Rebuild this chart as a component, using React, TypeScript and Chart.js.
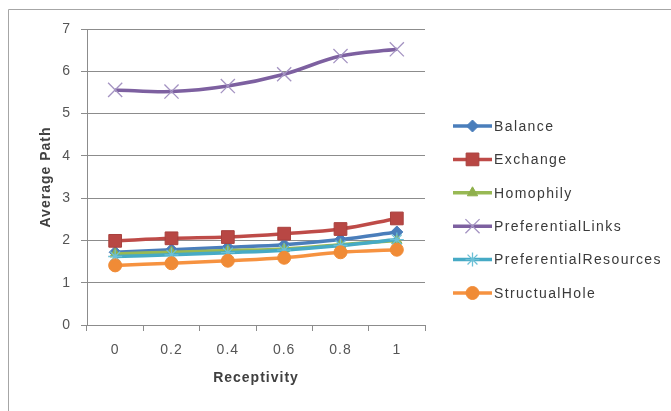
import React, { useEffect, useRef } from 'react';
import { Chart, registerables } from 'chart.js';
import { drawPoint } from 'chart.js/helpers';

Chart.register(...registerables);

// Receptivity levels on the x axis
const receptivity = ['0', '0.2', '0.4', '0.6', '0.8', '1'];

// Average path length per network model
const balance = [1.72, 1.78, 1.84, 1.9, 2.02, 2.2];
const exchange = [1.99, 2.05, 2.08, 2.16, 2.27, 2.52];
const homophily = [1.68, 1.72, 1.76, 1.8, 1.9, 2.0];
const preferentialLinks = [5.56, 5.52, 5.65, 5.93, 6.36, 6.52];
const preferentialResources = [1.62, 1.66, 1.71, 1.77, 1.88, 2.02];
const structualHole = [1.41, 1.46, 1.52, 1.59, 1.72, 1.78];

const yMin = 0;
const yMax = 7;
const yStep = 1;

const FONT = '"Liberation Sans", Arial, sans-serif';
const AXIS_GREY = '#8c8c8c';
const TEXT_GREY = '#555555';

type SeriesDef = {
  name: string;
  data: number[];
  line: string;
  fill: string;
  edge: string;
  style: string;
  radius: number;
  edgeWidth: number;
};

const series: SeriesDef[] = [
  { name: 'Balance', data: balance, line: '#4a7ebb', fill: '#4a7ebb', edge: '#4a7ebb', style: 'rectRot', radius: 6, edgeWidth: 1 },
  { name: 'Exchange', data: exchange, line: '#be4b48', fill: '#b84744', edge: '#a9413e', style: 'rect', radius: 9, edgeWidth: 1 },
  { name: 'Homophily', data: homophily, line: '#98b954', fill: '#8fb04c', edge: '#8fb04c', style: 'triangle', radius: 6, edgeWidth: 1 },
  { name: 'PreferentialLinks', data: preferentialLinks, line: '#7d60a0', fill: '#a493c2', edge: '#a493c2', style: 'crossRot', radius: 10, edgeWidth: 1.3 },
  { name: 'PreferentialResources', data: preferentialResources, line: '#46aac5', fill: '#6cc0d6', edge: '#6cc0d6', style: 'star', radius: 7, edgeWidth: 1.3 },
  { name: 'StructualHole', data: structualHole, line: '#f69240', fill: '#f08b36', edge: '#f08b36', style: 'circle', radius: 6.5, edgeWidth: 1 },
];

// Outer frame (left and top edges) plus letter spacing for all canvas text
const framePlugin = {
  id: 'frame',
  beforeDraw(chart: any) {
    const ctx = chart.ctx as CanvasRenderingContext2D;
    ctx.save();
    ctx.strokeStyle = '#a6a6a6';
    ctx.lineWidth = 1;
    ctx.beginPath();
    ctx.moveTo(8.5, chart.height);
    ctx.lineTo(8.5, 9.5);
    ctx.lineTo(chart.width, 9.5);
    ctx.stroke();
    ctx.restore();
    (ctx as any).letterSpacing = '1px';
  },
};

// Legend on the right: line sample with marker, then the series name
const sideLegendPlugin = {
  id: 'sideLegend',
  afterDraw(chart: any) {
    const ctx = chart.ctx as CanvasRenderingContext2D;
    const x0 = 453;
    const x1 = 492;
    const top = 126;
    const gap = 33.4;
    ctx.save();
    (ctx as any).letterSpacing = '1.4px';
    ctx.font = `14px ${FONT}`;
    ctx.textBaseline = 'middle';
    ctx.textAlign = 'left';
    series.forEach((s, i) => {
      const y = top + i * gap;
      ctx.strokeStyle = s.line;
      ctx.lineWidth = 3.5;
      ctx.lineCap = 'butt';
      ctx.beginPath();
      ctx.moveTo(x0, y);
      ctx.lineTo(x1, y);
      ctx.stroke();
      ctx.fillStyle = s.fill;
      ctx.strokeStyle = s.edge;
      ctx.lineWidth = s.edgeWidth;
      drawPoint(ctx, { pointStyle: s.style as any, radius: s.radius, rotation: 0, borderWidth: s.edgeWidth }, (x0 + x1) / 2, y);
      ctx.fillStyle = '#3a3a3a';
      ctx.fillText(s.name, x1 + 2, y + 1);
    });
    ctx.restore();
  },
};

export default function App() {
  const canvasRef = useRef<HTMLCanvasElement | null>(null);

  useEffect(() => {
    const canvas = canvasRef.current;
    if (!canvas) return;
    const chart = new Chart(canvas, {
      type: 'line',
      data: {
        labels: receptivity,
        datasets: series.map((s, i) => ({
          label: s.name,
          data: s.data,
          borderColor: s.line,
          backgroundColor: s.fill,
          borderWidth: 3.5,
          tension: 0.35,
          fill: false,
          pointStyle: s.style as any,
          pointRadius: s.radius,
          pointBackgroundColor: s.fill,
          pointBorderColor: s.edge,
          pointBorderWidth: s.edgeWidth,
          order: series.length - i,
        })),
      },
      options: {
        animation: false,
        responsive: false,
        devicePixelRatio: 1,
        layout: { padding: { left: 0, top: 29, right: 246, bottom: 0 } },
        plugins: {
          legend: { display: false },
          tooltip: { enabled: false },
        },
        scales: {
          x: {
            type: 'category',
            offset: true,
            grid: { drawOnChartArea: false, offset: true, tickLength: 6, color: AXIS_GREY },
            border: { color: AXIS_GREY },
            ticks: { color: TEXT_GREY, font: { family: FONT, size: 14 }, padding: 11, maxRotation: 0, autoSkip: false },
            title: {
              display: true,
              text: 'Receptivity',
              color: '#404040',
              font: { family: FONT, size: 14, weight: 'bold' },
              padding: { top: 0, bottom: 24 },
            },
            afterFit(scale: any) {
              scale.height = 86;
            },
          },
          y: {
            min: yMin,
            max: yMax,
            grid: { color: AXIS_GREY, tickLength: 6 },
            border: { color: AXIS_GREY },
            ticks: { stepSize: yStep, color: TEXT_GREY, font: { family: FONT, size: 14 }, padding: 10 },
            title: {
              display: true,
              text: 'Average Path',
              color: '#404040',
              font: { family: FONT, size: 14, weight: 'bold' },
              padding: { top: 38, bottom: 0 },
            },
            afterFit(scale: any) {
              scale.width = 87;
            },
          },
        },
      },
      plugins: [framePlugin, sideLegendPlugin],
    });
    return () => chart.destroy();
  }, []);

  return (
    <canvas
      ref={canvasRef}
      width={671}
      height={411}
      style={{ position: 'fixed', left: 0, top: 0, width: 671, height: 411, background: '#ffffff' }}
    />
  );
}
